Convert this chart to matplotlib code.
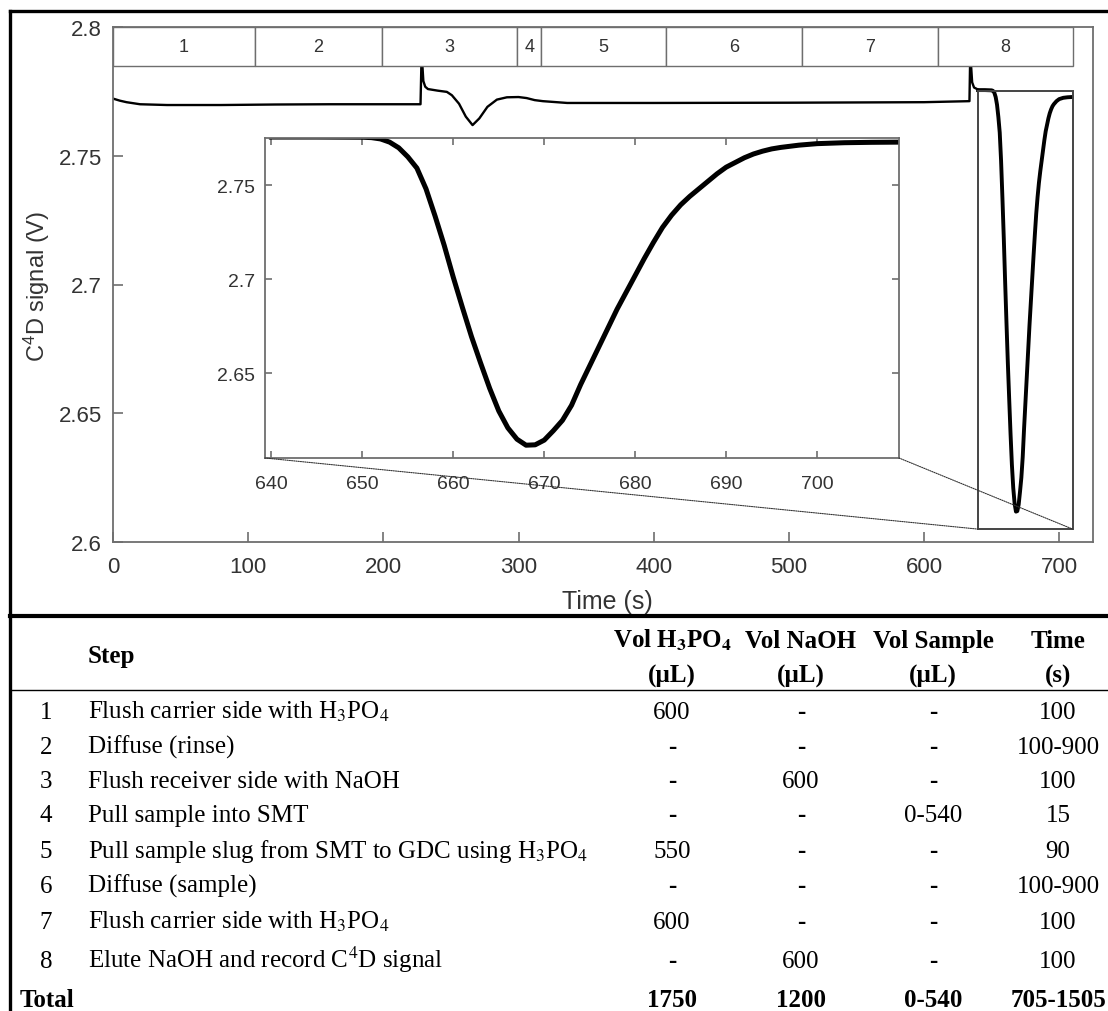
import matplotlib
matplotlib.use("Agg")
import matplotlib.pyplot as plt
from matplotlib.patches import Rectangle, ConnectionPatch
from matplotlib.lines import Line2D
from matplotlib.ticker import FormatStrFormatter

# ---------------- data ----------------
time_main = [0, 5, 10, 20, 40, 80, 120, 160, 200, 227.5, 228.3, 228.9, 229.6, 231, 233,
             240, 247, 250.7, 256, 261, 266, 271, 277, 284, 291.4, 300, 306, 312, 318, 336,
             400, 500, 600, 633.6, 634.2, 634.8, 635.6, 637, 640]
signal_main = [2.7722, 2.7714, 2.7708, 2.7700, 2.7697, 2.7697, 2.7699, 2.7700, 2.7700, 2.7700,
               2.7895, 2.7850, 2.7790, 2.7768, 2.7759,
               2.7753, 2.7748, 2.7735, 2.7702, 2.7652, 2.7619, 2.7645, 2.7690, 2.7718, 2.7727,
               2.7728, 2.7724, 2.7716, 2.7712, 2.7705,
               2.7705, 2.7706, 2.7708, 2.7712, 2.7902, 2.7850, 2.7785, 2.7765, 2.7757]

time_peak = [640, 645, 650, 651, 652, 653, 654, 655, 656, 657, 658, 659, 660, 661, 662,
             663, 664, 665, 666, 667, 668, 669, 670, 671, 672, 673, 674, 675, 676, 677,
             678, 679, 680, 681, 682, 683, 684, 685, 686, 687, 688, 689, 690, 691, 692,
             693, 694, 695, 696, 698, 700, 703, 706, 709]
signal_peak = [2.7755, 2.7755, 2.7754, 2.7752, 2.7745, 2.7728, 2.7698, 2.7650, 2.7590,
               2.7480, 2.7335, 2.7180, 2.7010, 2.6850, 2.6695, 2.6555, 2.6420, 2.6300,
               2.6210, 2.6150, 2.6118, 2.6120, 2.6145, 2.6195, 2.6250, 2.6330, 2.6440,
               2.6540, 2.6640, 2.6740, 2.6840, 2.6930, 2.7020, 2.7110, 2.7195, 2.7275,
               2.7340, 2.7395, 2.7440, 2.7480, 2.7520, 2.7560, 2.7595, 2.7620, 2.7645,
               2.7665, 2.7680, 2.7692, 2.7700, 2.7712, 2.7720, 2.7725, 2.7727, 2.7728]

step_bounds = [0, 105, 199, 299, 317, 409, 510, 610, 710]
step_labels = ["1", "2", "3", "4", "5", "6", "7", "8"]

main_xticks = [0, 100, 200, 300, 400, 500, 600, 700]
main_yticks = [2.6, 2.65, 2.7, 2.75, 2.8]
inset_xticks = [640, 650, 660, 670, 680, 690, 700]
inset_yticks = [2.65, 2.7, 2.75]

table_num = ["1", "2", "3", "4", "5", "6", "7", "8"]
table_steps = [
    r"Flush carrier side with H$_3$PO$_4$",
    "Diffuse (rinse)",
    "Flush receiver side with NaOH",
    "Pull sample into SMT",
    r"Pull sample slug from SMT to GDC using H$_3$PO$_4$",
    "Diffuse (sample)",
    r"Flush carrier side with H$_3$PO$_4$",
    r"Elute NaOH and record C$^4$D signal",
]
table_h3po4 = ["600", "-", "-", "-", "550", "-", "600", "-"]
table_naoh = ["-", "-", "600", "-", "-", "-", "-", "600"]
table_sample = ["-", "-", "-", "0-540", "-", "-", "-", "-"]
table_time = ["100", "100-900", "100", "15", "90", "100-900", "100", "100"]
table_totals = ["1750", "1200", "0-540", "705-1505"]
header_top = [r"Vol H$_\mathbf{3}$PO$_\mathbf{4}$", "Vol NaOH", "Vol Sample", "Time"]
header_bot = ["(µL)", "(µL)", "(µL)", "(s)"]

# ---------------- style ----------------
plt.rcParams["font.family"] = ["Liberation Sans", "DejaVu Sans"]
plt.rcParams["mathtext.fontset"] = "custom"
plt.rcParams["mathtext.rm"] = "Liberation Sans"
plt.rcParams["mathtext.it"] = "Liberation Sans:italic"
plt.rcParams["mathtext.bf"] = "Liberation Sans:bold"

W, H = 1108, 1012
fig = plt.figure(figsize=(W / 100, H / 100), dpi=100)

def fx(px):
    return px / W

def fy(py):
    return 1 - py / H

axc = "#6e6e6e"
txtc = "#333333"

# ---------------- main axes ----------------
ax = fig.add_axes([fx(113), fy(543), fx(1093) - fx(113), fy(28) - fy(543)])
ax.plot(time_main, signal_main, color="black", lw=1.7, solid_joinstyle="round")
ax.plot(time_peak, signal_peak, color="black", lw=2.8, solid_joinstyle="round")
ax.set_xlim(0, 725)
ax.set_ylim(2.6, 2.8)
ax.set_xticks(main_xticks)
ax.set_yticks(main_yticks)
ax.yaxis.set_major_formatter(FormatStrFormatter("%g"))
ax.tick_params(direction="in", length=7, width=1.2, color=axc, labelsize=16,
               labelcolor=txtc)
ax.tick_params(axis="x", pad=10)
ax.tick_params(axis="y", pad=8)
for s in ax.spines.values():
    s.set_color(axc)
    s.set_linewidth(1.3)

# step band
for i in range(len(step_labels)):
    x0, x1 = step_bounds[i], step_bounds[i + 1]
    ax.add_patch(Rectangle((x0, 2.785), x1 - x0, 0.015, facecolor="white",
                           edgecolor=axc, lw=1.0, zorder=3))
    ax.text((x0 + x1) / 2, 2.7925, step_labels[i], ha="center", va="center",
            fontsize=13, color=txtc, zorder=4)

# zoom box
ax.add_patch(Rectangle((640, 2.605), 70, 0.17, fill=False, edgecolor="#444444",
                       lw=1.4, zorder=5))

fig.text(fx(37), fy(286), r"C$^4$D signal (V)", rotation=90, ha="center",
         va="center", fontsize=17, color=txtc)
fig.text(fx(607), fy(602), "Time (s)", ha="center", va="center", fontsize=18,
         color=txtc)

# ---------------- inset ----------------
ins = fig.add_axes([fx(265), fy(459), fx(899) - fx(265), fy(139) - fy(459)])
ins.plot(time_peak, signal_peak, color="black", lw=3.6, solid_joinstyle="round")
ins.set_xlim(639.3, 709)
ins.set_ylim(2.605, 2.775)
ins.set_xticks(inset_xticks)
ins.set_yticks(inset_yticks)
ins.yaxis.set_major_formatter(FormatStrFormatter("%g"))
ins.tick_params(direction="in", length=5, width=1.2, color=axc, labelsize=14,
                labelcolor=txtc, top=True, right=True)
ins.tick_params(axis="x", pad=12)
ins.tick_params(axis="y", pad=7)
for s in ins.spines.values():
    s.set_color(axc)
    s.set_linewidth(1.3)

for xa, xb in [((0, 0), (640, 2.605)), ((1, 0), (710, 2.605))]:
    cp = ConnectionPatch(xyA=xa, coordsA=ins.transAxes, xyB=xb, coordsB=ax.transData,
                         color="#333333", lw=0.8, linestyle=(0, (1, 1)))
    fig.add_artist(cp)

# ---------------- frame lines ----------------
fig.add_artist(Line2D([fx(10), 1], [fy(12), fy(12)], color="black", lw=2.4))
fig.add_artist(Line2D([fx(10), fx(10)], [fy(12), 0], color="black", lw=2.4))
fig.add_artist(Line2D([fx(10), 1], [fy(617), fy(617)], color="black", lw=3.0))
fig.add_artist(Line2D([fx(10), 1], [fy(691), fy(691)], color="black", lw=1.0))

# ---------------- table ----------------
serif = ["Liberation Serif", "DejaVu Serif"]
tkw = dict(family=serif, fontsize=18, color="black", math_fontfamily="stix")
col_x = [672, 801, 933, 1058]

fig.text(fx(88), fy(663), "Step", ha="left", va="baseline", fontweight="bold", **tkw)
for cx, top, bot in zip(col_x, header_top, header_bot):
    fig.text(fx(cx), fy(648), top, ha="center", va="baseline", fontweight="bold", **tkw)
    fig.text(fx(cx), fy(683), bot, ha="center", va="baseline", fontweight="bold", **tkw)

row_base = [719, 754, 788, 822, 858, 893, 929, 968]
cols = [table_h3po4, table_naoh, table_sample, table_time]
for i in range(len(table_num)):
    yb = fy(row_base[i])
    fig.text(fx(46), yb, table_num[i], ha="center", va="baseline", **tkw)
    fig.text(fx(88), yb, table_steps[i], ha="left", va="baseline", **tkw)
    for cx, col in zip(col_x, cols):
        w = "bold" if col[i] == "-" else "normal"
        fig.text(fx(cx), yb, col[i], ha="center", va="baseline", fontweight=w, **tkw)

fig.text(fx(20), fy(1007), "Total", ha="left", va="baseline", fontweight="bold", **tkw)
for cx, v in zip(col_x, table_totals):
    fig.text(fx(cx), fy(1007), v, ha="center", va="baseline", fontweight="bold", **tkw)

fig.savefig("out.png", dpi=100)
